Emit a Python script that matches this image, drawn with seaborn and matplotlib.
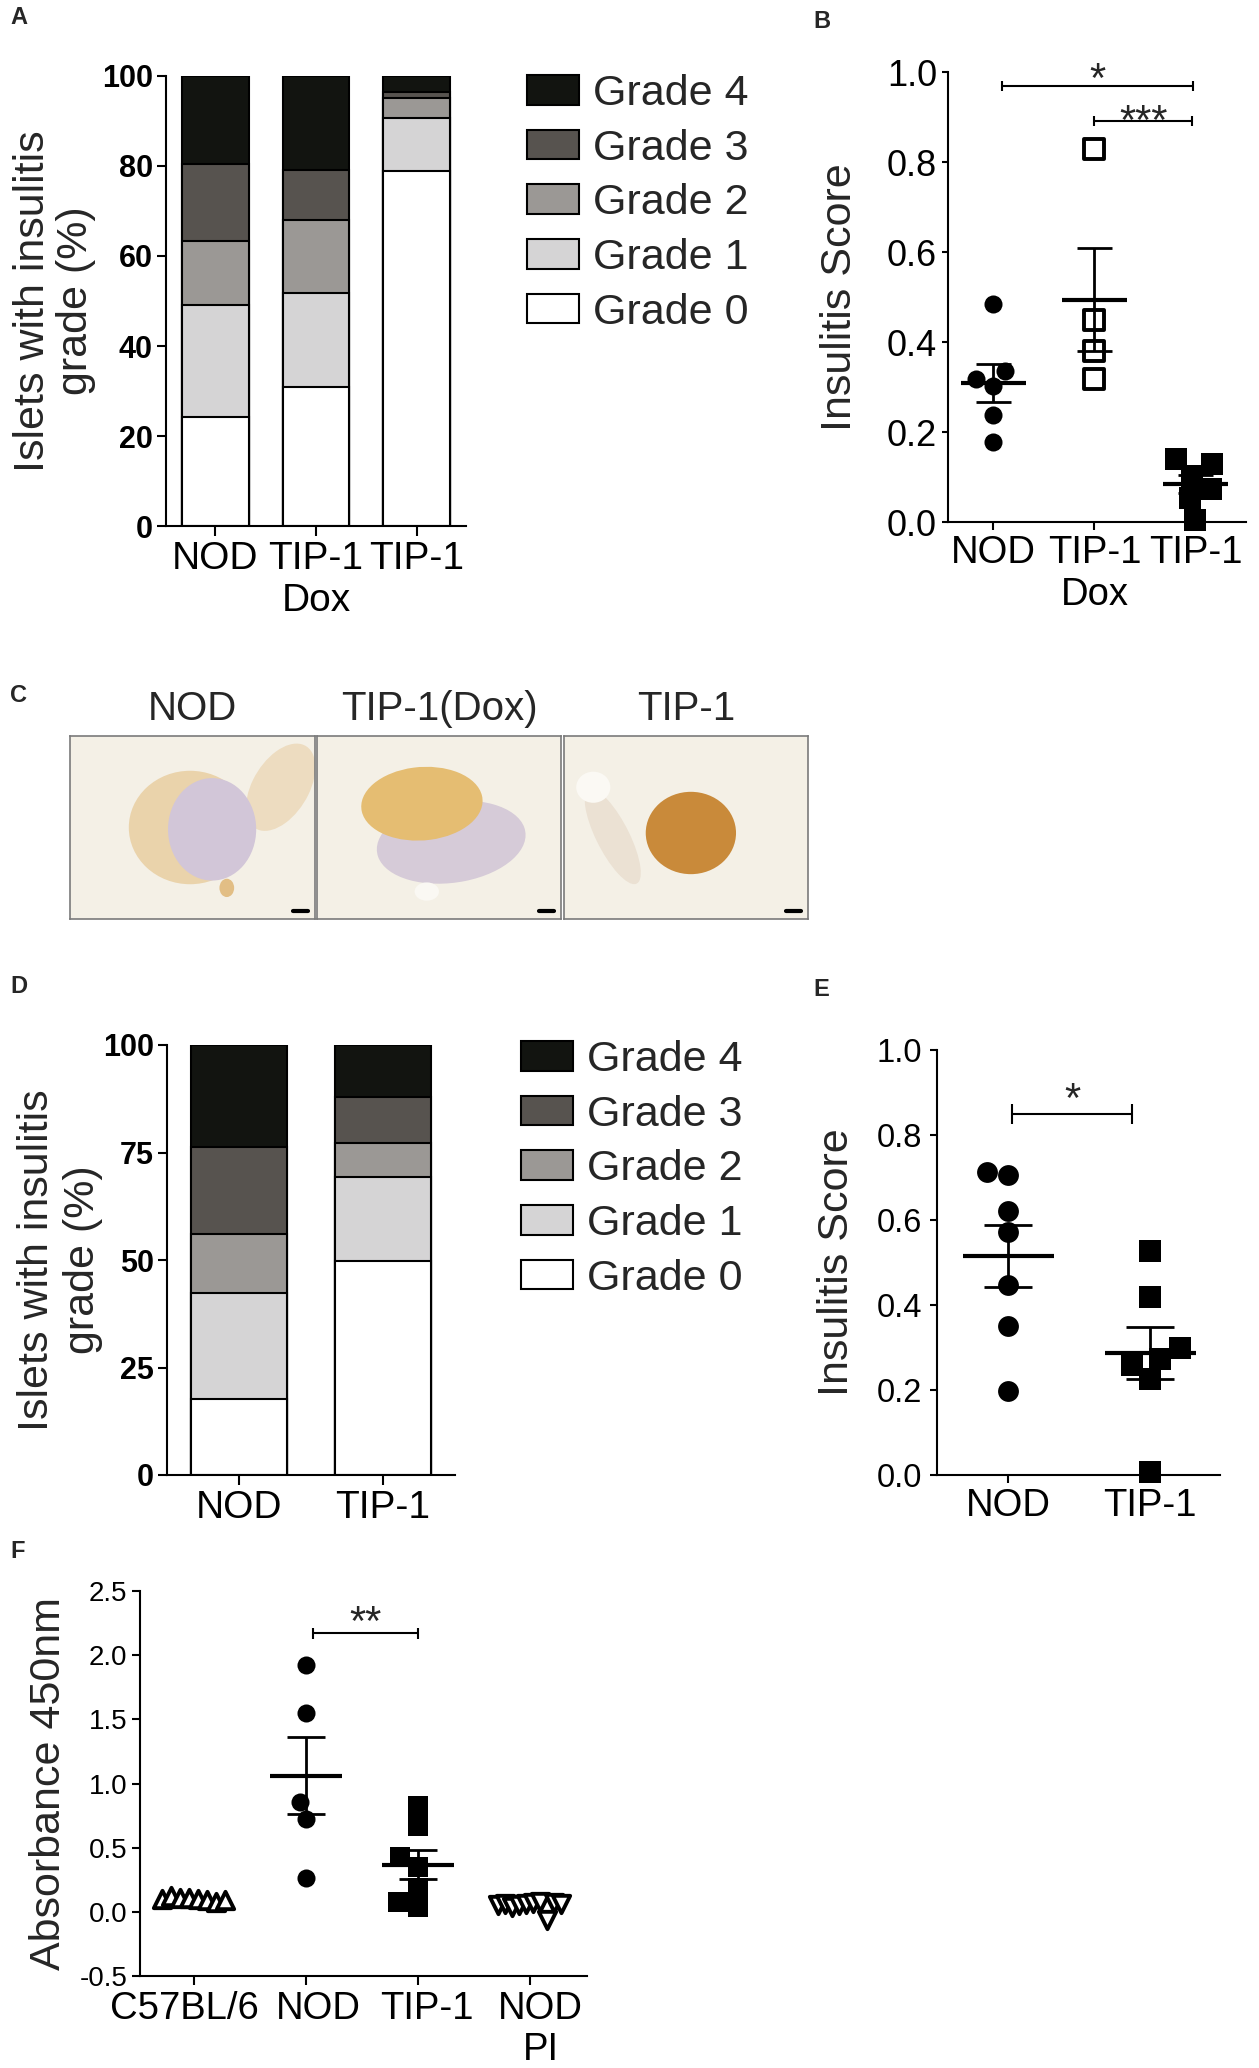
import numpy as np
import pandas as pd
import matplotlib
matplotlib.use("Agg")
import matplotlib.pyplot as plt
from matplotlib.patches import Patch, Ellipse
from matplotlib.transforms import ScaledTranslation
import seaborn as sns

# ---------------- data ----------------
grades = ["Grade 0", "Grade 1", "Grade 2", "Grade 3", "Grade 4"]
grade_colors = ["#ffffff", "#d5d4d5", "#9b9895", "#57534f", "#121410"]

# panel A, % of islets per grade (Grade 0 .. Grade 4)
a_groups = ["NOD", "TIP-1\nDox", "TIP-1"]
a_nod = [24.3, 24.7, 14.3, 17.2, 19.5]
a_dox = [30.9, 20.8, 16.2, 11.3, 20.8]
a_tip = [78.8, 11.8, 4.5, 1.3, 3.6]

# panel B, insulitis score per mouse
b_groups = ["NOD", "TIP-1\nDox", "TIP-1"]
b_nod = [0.485, 0.317, 0.335, 0.303, 0.238, 0.178]
b_dox = [0.829, 0.449, 0.381, 0.317]
b_tip = [0.130, 0.139, 0.103, 0.074, 0.053, 0.005]

# panel C titles
c_titles = ["NOD", "TIP-1(Dox)", "TIP-1"]

# panel D
d_groups = ["NOD", "TIP-1"]
d_nod = [17.7, 24.6, 13.8, 20.1, 23.8]
d_tip = [49.8, 19.4, 8.1, 10.6, 12.1]

# panel E
e_groups = ["NOD", "TIP-1"]
e_nod = [0.714, 0.705, 0.622, 0.571, 0.447, 0.350, 0.197]
e_tip = [0.527, 0.420, 0.298, 0.258, 0.274, 0.226, 0.006]

# panel F, absorbance 450nm
f_groups = ["C57BL/6", "NOD", "TIP-1", "NOD\nPI"]
f_c57 = [0.10, 0.12, 0.11, 0.11, 0.10, 0.09, 0.08, 0.09]
f_nod = [1.921, 1.547, 0.854, 0.720, 0.267]
f_tip = [0.827, 0.667, 0.427, 0.347, 0.187, 0.035, 0.080]
f_pi = [0.05, 0.06, 0.04, 0.05, 0.06, 0.07, 0.08, -0.06, 0.07, 0.06]

# ---------------- style ----------------
sns.set_style("ticks")
plt.rcParams['font.family'] = ['Liberation Sans', 'DejaVu Sans']
plt.rcParams['axes.linewidth'] = 1.5
plt.rcParams['xtick.major.width'] = 1.5
plt.rcParams['ytick.major.width'] = 1.5
plt.rcParams['axes.edgecolor'] = 'black'
plt.rcParams['xtick.color'] = 'black'
plt.rcParams['ytick.color'] = 'black'

W, H = 1259, 2068
fig = plt.figure(figsize=(W / 100, H / 100), dpi=100)


def box(l, t, r, b):
    return [l / W, 1 - b / H, (r - l) / W, (b - t) / H]


def stacked(ax, groups, rows, ticks, linespacing, labelpad):
    df = pd.DataFrame(rows, index=groups, columns=grades)
    cum = df.cumsum(axis=1)
    for g, col in reversed(list(zip(grades, grade_colors))):
        sns.barplot(x=list(groups), y=cum[g].values, order=groups, color=col,
                    saturation=1, edgecolor='black', linewidth=1.5, width=0.66,
                    errorbar=None, ax=ax)
    ax.set_ylim(0, 100)
    ax.set_xlim(-0.49, len(groups) - 0.51)
    ax.set_yticks(ticks)
    ax.tick_params(axis='x', labelsize=28, length=7, pad=4)
    ax.tick_params(axis='y', labelsize=22, length=6.5, pad=3)
    for t in ax.get_yticklabels():
        t.set_fontweight('bold')
    ax.set_ylabel("Islets with insulitis\ngrade (%)", fontsize=31,
                  linespacing=linespacing, labelpad=labelpad)
    sns.despine(ax=ax)


def legend(ax, x, y):
    handles = [Patch(facecolor=c, edgecolor='black', linewidth=1.5, label=g)
               for g, c in reversed(list(zip(grades, grade_colors)))]
    ax.legend(handles=handles, loc='upper left', bbox_to_anchor=(x / W, 1 - y / H),
              bbox_transform=fig.transFigure, frameon=False, fontsize=31,
              handlelength=1.2, handleheight=0.68, handletextpad=0.33,
              labelspacing=0.34, borderpad=0, borderaxespad=0)


def dots(ax, order, items):
    for name, vals, (m, fc, lw, s) in items:
        sns.swarmplot(x=[name] * len(vals), y=vals, order=order, marker=m,
                      color=fc, edgecolor='black', linewidth=lw, size=s, ax=ax,
                      warn_thresh=1, clip_on=False, zorder=3)


def row(ax, pos, vals, marker, size):
    # evenly spread row of open triangles around the category position
    xs = pos + np.linspace(-0.28, 0.28, len(vals))
    sns.scatterplot(x=xs, y=vals, marker=marker, s=size ** 2, color='white',
                    edgecolor='black', linewidth=2.8, ax=ax, zorder=3, legend=False)


def mean_sem(ax, series):
    for i, vals in series:
        v = np.asarray(vals)
        m = v.mean()
        se = v.std(ddof=1) / np.sqrt(len(v))
        ax.hlines(m, i - 0.32, i + 0.32, color='black', lw=3, zorder=5)
        ax.vlines(i, m - se, m + se, color='black', lw=2, zorder=5)
        ax.hlines([m - se, m + se], i - 0.17, i + 0.17, color='black', lw=2, zorder=5)


def sig(ax, x1, x2, y, h, text, dy):
    ax.plot([x1, x2], [y, y], color='black', lw=1.5, clip_on=False)
    ax.vlines([x1, x2], y - h, y + h, color='black', lw=1.5, clip_on=False)
    ax.annotate(text, xy=((x1 + x2) / 2, y), xytext=(0, dy), textcoords='offset points',
                ha='center', va='baseline', fontsize=30)


def score_axes(ax, ylabel, ylim, yticks, ysize, xlim, labelpad, ylen, ypad):
    ax.set_xlim(*xlim)
    ax.set_ylim(*ylim)
    ax.set_yticks(yticks)
    ax.tick_params(axis='x', labelsize=27.5, length=5.5, pad=4)
    ax.tick_params(axis='y', labelsize=ysize, length=ylen, pad=ypad)
    ax.set_ylabel(ylabel, fontsize=31, labelpad=labelpad)
    sns.despine(ax=ax)


# ---------------- A ----------------
axA = fig.add_axes(box(166, 76, 466, 526))
stacked(axA, a_groups, [a_nod, a_dox, a_tip], [0, 20, 40, 60, 80, 100], 1.1, 4)
legend(axA, 527, 74)

# ---------------- B ----------------
axB = fig.add_axes(box(948, 72, 1246, 522))
dots(axB, b_groups, [("NOD", b_nod, ('o', 'black', 0, 13)),
                     ("TIP-1\nDox", b_dox, ('s', 'white', 2.8, 14)),
                     ("TIP-1", b_tip, ('s', 'black', 0, 16))])
mean_sem(axB, [(0, b_nod), (1, b_dox), (2, b_tip)])
score_axes(axB, "Insulitis Score", (0, 1.0), np.arange(0, 1.01, 0.2), 26,
           (-0.45, 2.5), 19, 4.5, 3.5)
sig(axB, 0.08, 1.98, 0.969, 0.012, "*", -4.6)
sig(axB, 1.0, 1.97, 0.891, 0.012, "***", -9.5)

# ---------------- C ----------------
def tissue(ax, blobs):
    ax.set_xlim(0, 1)
    ax.set_ylim(0, 1)
    ax.set_facecolor('#f4f0e6')
    ax.set_xticks([])
    ax.set_yticks([])
    for sp in ax.spines.values():
        sp.set_edgecolor('#7a7a7a')
        sp.set_linewidth(1.2)
    for cx, cy, w, h, ang, col in blobs:
        ax.add_patch(Ellipse((cx, cy), w, h, angle=ang, facecolor=col, edgecolor='none'))
    ax.plot([0.91, 0.97], [0.045, 0.045], color='black', lw=3)


c_boxes = [(70, 736, 315, 919), (317, 736, 561, 919), (564, 736, 808, 919)]
c_blobs = [
    [(0.86, 0.72, 0.24, 0.5, -20, '#eddcc0'), (0.49, 0.5, 0.5, 0.62, 0, '#ead3ab'),
     (0.58, 0.49, 0.36, 0.56, 0, '#d2c6d8'), (0.64, 0.17, 0.06, 0.1, 0, '#e2be85')],
    [(0.55, 0.42, 0.62, 0.44, 15, '#d6cbd8'), (0.43, 0.63, 0.5, 0.4, 10, '#e5bd72'),
     (0.45, 0.15, 0.1, 0.1, 0, '#faf8f3')],
    [(0.2, 0.45, 0.14, 0.55, 20, '#ebe1d3'), (0.12, 0.72, 0.14, 0.17, 0, '#fbf9f4'),
     (0.52, 0.47, 0.37, 0.45, 0, '#c98a3a')],
]
for (l, t, r, b), title, blobs in zip(c_boxes, c_titles, c_blobs):
    axc = fig.add_axes(box(l, t, r, b))
    tissue(axc, blobs)
    fig.text((l + r) / 2 / W, 1 - 709 / H, title, ha='center', va='center', fontsize=29)

# ---------------- D ----------------
axD = fig.add_axes(box(167, 1045, 455, 1475))
stacked(axD, d_groups, [d_nod, d_tip], [0, 25, 50, 75, 100], 1.18, 0)
axD.set_xlim(-0.5, 1.5)
legend(axD, 521, 1040)

# ---------------- E ----------------
axE = fig.add_axes(box(937, 1050, 1220, 1475))
dots(axE, e_groups, [("NOD", e_nod, ('o', 'black', 0, 15)),
                     ("TIP-1", e_tip, ('s', 'black', 0, 16))])
mean_sem(axE, [(0, e_nod), (1, e_tip)])
score_axes(axE, "Insulitis Score", (0, 1.0), np.arange(0, 1.01, 0.2), 23.5,
           (-0.5, 1.49), 14, 5, 5.8)
sig(axE, 0.03, 0.87, 0.85, 0.024, "*", 1.4)

# ---------------- F ----------------
axF = fig.add_axes(box(140, 1591, 587, 1976))
dots(axF, f_groups, [("NOD", f_nod, ('o', 'black', 0, 13)),
                     ("TIP-1", f_tip, ('s', 'black', 0, 14))])
row(axF, 0, f_c57, '^', 12.5)
row(axF, 3, f_pi, 'v', 12.5)
mean_sem(axF, [(1, f_nod), (2, f_tip)])
score_axes(axF, "Absorbance 450nm", (-0.5, 2.5), np.arange(-0.5, 2.51, 0.5), 20,
           (-0.48, 3.51), 8, 6, 3)
axF.set_xticks(range(len(f_groups)))
axF.set_xticklabels(f_groups)
axF.tick_params(axis='x', length=6.5)
axF.yaxis.set_major_formatter(matplotlib.ticker.FormatStrFormatter('%.1f'))
for lab, dx in zip(axF.get_xticklabels(), [-9, 13, 9, 11]):
    lab.set_transform(lab.get_transform() + ScaledTranslation(dx / 100, 0, fig.dpi_scale_trans))
sig(axF, 1.06, 2.0, 2.17, 0.045, "**", -1)

# ---------------- panel letters ----------------
for letter, x, y in [("A", 10, 6), ("B", 813, 10), ("C", 10, 684), ("D", 10, 975),
                     ("E", 813, 978), ("F", 10, 1540)]:
    fig.text(x / W, 1 - y / H, letter, fontsize=17, fontweight='bold', va='top')

fig.savefig("out.png", dpi=100)
